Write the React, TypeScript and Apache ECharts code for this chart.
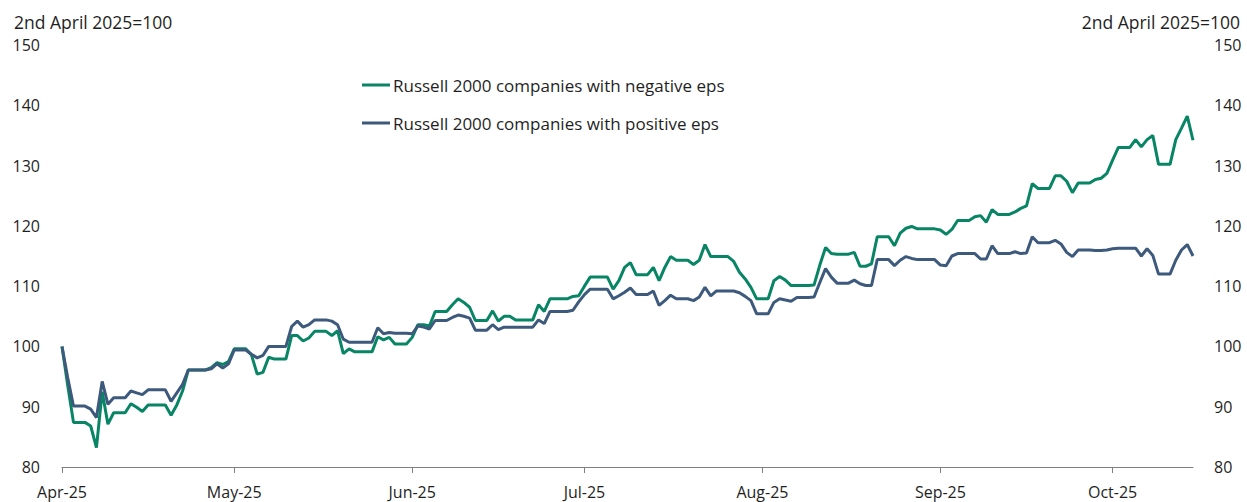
import React, { useEffect, useRef } from "react";
import * as echarts from "echarts";

// ---- Data ----
const START = "2025-04-02";
const END = "2025-10-16";
const HOLIDAYS = ["2025-04-18", "2025-05-26", "2025-06-19", "2025-07-04", "2025-09-01"];
const TICK_DATES = ["2025-04-02", "2025-05-02", "2025-06-02", "2025-07-02", "2025-08-02", "2025-09-02", "2025-10-02"];
const MONTHS = ["Jan", "Feb", "Mar", "Apr", "May", "Jun", "Jul", "Aug", "Sep", "Oct", "Nov", "Dec"];
const Y_TICKS = [80, 90, 100, 110, 120, 130, 140, 150];
const AXIS_TITLE = "2nd April 2025=100";
const SERIES_NAMES = [
  "Russell 2000 companies with negative eps",
  "Russell 2000 companies with positive eps",
];

// Trading-day values (weekends / holidays carry forward)
const negApr = [100.0, 93.5, 87.4, 86.8, 83.2, 92.5, 87.1, 89.0, 90.5, 89.9, 89.2, 90.3, 88.6, 90.3, 92.6, 96.1, 96.1, 96.5, 97.3, 97.0];
const negMay = [97.5, 99.6, 98.6, 95.4, 95.7, 98.2, 97.9, 101.8, 101.8, 100.9, 101.4, 102.5, 101.8, 102.6, 98.8, 99.6, 99.1, 101.6, 101.1, 101.5, 100.4];
const negJun = [101.5, 103.6, 103.6, 103.4, 105.8, 106.9, 107.9, 107.3, 106.5, 104.3, 105.9, 104.2, 105.0, 104.4, 104.4, 106.9, 105.8, 107.9, 107.9, 108.3];
const negJul = [108.4, 110.0, 111.5, 109.5, 110.9, 113.1, 113.9, 111.9, 113.1, 110.9, 113.1, 114.9, 114.3, 113.6, 114.3, 116.9, 114.9, 114.9, 114.1, 112.3, 111.2, 109.8];
const negAug = [107.9, 110.9, 111.6, 111.0, 110.1, 110.1, 110.2, 113.5, 116.4, 115.4, 115.3, 115.6, 113.3, 113.3, 113.7, 118.2, 116.7, 118.8, 119.6, 119.9, 119.5];
const negSep = [119.3, 118.6, 119.4, 120.9, 121.5, 121.7, 120.6, 122.7, 121.9, 122.3, 122.9, 123.3, 127.0, 126.2, 128.3, 128.3, 127.4, 125.5, 127.1, 127.7, 127.9];
const negOct = [128.7, 130.9, 133.0, 134.3, 133.1, 134.3, 135.0, 130.2, 134.3, 136.2, 138.2, 134.2];

const posApr = [100.0, 94.8, 90.1, 89.6, 88.2, 94.2, 90.4, 91.5, 92.6, 92.3, 92.0, 92.8, 90.9, 92.3, 93.7, 96.1, 96.1, 96.3, 97.1, 96.4];
const posMay = [97.1, 99.4, 98.7, 98.1, 98.5, 100.0, 100.0, 103.3, 104.2, 103.2, 103.6, 104.4, 104.2, 103.6, 101.2, 100.7, 100.7, 103.1, 102.1, 102.3, 102.2];
const posJun = [102.1, 103.4, 103.2, 102.9, 104.3, 104.8, 105.2, 105.0, 104.7, 102.7, 103.6, 102.8, 103.2, 103.2, 103.2, 104.4, 103.8, 105.8, 105.8, 106.0];
const posJul = [107.4, 108.6, 109.5, 107.9, 108.4, 109.0, 109.7, 108.6, 109.2, 106.8, 107.6, 108.5, 107.9, 107.6, 108.2, 109.8, 108.4, 109.2, 109.2, 108.9, 108.3, 107.6];
const posAug = [105.4, 107.3, 107.9, 107.7, 107.5, 108.1, 108.2, 110.6, 112.9, 111.5, 110.5, 111.0, 110.4, 110.1, 110.1, 114.4, 113.4, 114.3, 114.9, 114.6, 114.4];
const posSep = [113.5, 113.4, 115.0, 115.4, 115.4, 114.5, 114.5, 116.7, 115.4, 115.7, 115.4, 115.5, 118.2, 117.2, 117.6, 117.0, 115.6, 114.9, 116.0, 115.9, 115.9];
const posOct = [116.0, 116.2, 116.3, 116.3, 115.0, 116.2, 115.1, 112.0, 114.3, 116.0, 116.9, 115.0];

const negValues = [...negApr, ...negMay, ...negJun, ...negJul, ...negAug, ...negSep, ...negOct];
const posValues = [...posApr, ...posMay, ...posJun, ...posJul, ...posAug, ...posSep, ...posOct];

// ---- Styles ----
const GREEN = "#078564";
const BLUE = "#3d5a7c";
const TEXT = "#1f1f1f";
const AXIS = "#7f7f7f";
const FONT = '"Open Sans", "Noto Sans", sans-serif';

const DAY = 86400000;
function ts(s: string): number {
  const [y, m, d] = s.split("-").map(Number);
  return Date.UTC(y, m - 1, d);
}

function tradingDays(): number[] {
  const hol = new Set(HOLIDAYS.map(ts));
  const out: number[] = [];
  for (let t = ts(START); t <= ts(END); t += DAY) {
    const wd = new Date(t).getUTCDay();
    if (wd === 0 || wd === 6 || hol.has(t)) continue;
    out.push(t);
  }
  return out;
}

function dailySeries(values: number[]): [number, number][] {
  const days = tradingDays();
  const map = new Map<number, number>();
  days.forEach((t, i) => {
    if (i < values.length) map.set(t, values[i]);
  });
  const out: [number, number][] = [];
  let last = values[0];
  for (let t = ts(START); t <= ts(END); t += DAY) {
    if (map.has(t)) last = map.get(t) as number;
    out.push([t, last]);
  }
  return out;
}

function monthLabel(v: number): string {
  const d = new Date(v);
  return MONTHS[d.getUTCMonth()] + "-" + String(d.getUTCFullYear()).slice(2);
}

export default function App() {
  const ref = useRef<HTMLDivElement>(null);

  useEffect(() => {
    if (!ref.current) return;
    const chart = echarts.init(ref.current, null, { renderer: "svg" });
    const ticks = TICK_DATES.map(ts);
    const yAxisBase = {
      type: "value",
      min: Y_TICKS[0],
      max: Y_TICKS[Y_TICKS.length - 1],
      interval: 10,
      axisLine: { show: false },
      axisTick: { show: false },
      splitLine: { show: false },
    };
    chart.setOption({
      animation: false,
      textStyle: { fontFamily: FONT },
      grid: { left: 62, right: 54, top: 45, bottom: 35, containLabel: false, outerBoundsMode: "none" },
      legend: {
        orient: "vertical",
        left: 357,
        top: 70,
        icon: "rect",
        itemWidth: 28,
        itemHeight: 3,
        itemGap: 18,
        selectedMode: false,
        textStyle: { fontSize: 17, color: TEXT, lineHeight: 20, fontFamily: FONT, padding: [0, 0, 0, -2] },
        data: SERIES_NAMES,
      },
      xAxis: {
        type: "value",
        min: ts(START),
        max: ts(END),
        axisLine: { show: true, onZero: false, lineStyle: { color: AXIS, width: 1 } },
        axisTick: { show: true, length: 6, lineStyle: { color: AXIS }, customValues: ticks },
        axisLabel: {
          customValues: ticks,
          formatter: (v: number) => monthLabel(v),
          fontSize: 16,
          color: TEXT,
          margin: 17,
          fontFamily: FONT,
          hideOverlap: false,
        },
        splitLine: { show: false },
        minorTick: { show: false },
      },
      yAxis: [
        {
          ...yAxisBase,
          position: "left",
          axisLabel: { fontSize: 16, color: TEXT, margin: 22, fontFamily: FONT },
        },
        {
          ...yAxisBase,
          position: "right",
          axisLabel: { fontSize: 16, color: TEXT, margin: 21, fontFamily: FONT },
        },
      ],
      graphic: [
        {
          type: "text",
          x: 14,
          y: 22,
          style: {
            text: AXIS_TITLE,
            fill: TEXT,
            font: `17.5px ${FONT}`,
            textAlign: "left",
            textVerticalAlign: "middle",
          },
        },
        {
          type: "text",
          x: 1240,
          y: 22,
          style: {
            text: AXIS_TITLE,
            fill: TEXT,
            font: `17.5px ${FONT}`,
            textAlign: "right",
            textVerticalAlign: "middle",
          },
        },
      ],
      series: [
        {
          name: SERIES_NAMES[0],
          type: "line",
          showSymbol: false,
          symbol: "none",
          color: GREEN,
          lineStyle: { color: GREEN, width: 3 },
          data: dailySeries(negValues),
        },
        {
          name: SERIES_NAMES[1],
          type: "line",
          showSymbol: false,
          symbol: "none",
          color: BLUE,
          lineStyle: { color: BLUE, width: 3 },
          data: dailySeries(posValues),
        },
      ],
    });
    return () => chart.dispose();
  }, []);

  return (
    <div
      ref={ref}
      style={{ position: "absolute", left: 0, top: 0, width: 1247, height: 502, background: "#fff" }}
    />
  );
}
